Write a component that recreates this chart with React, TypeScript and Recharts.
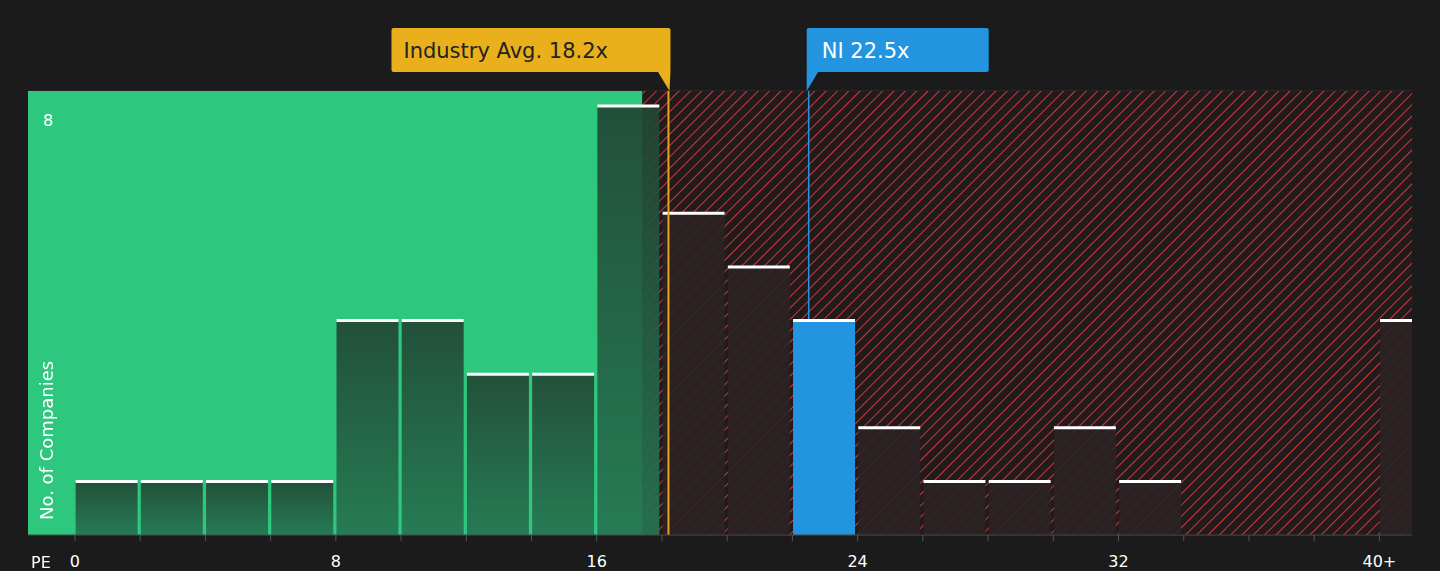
import { ComposedChart, XAxis, YAxis, CartesianGrid, ReferenceArea, ReferenceLine } from "recharts";

const binStarts = [0, 2, 4, 6, 8, 10, 12, 14, 16, 18, 20, 22, 24, 26, 28, 30, 32, 34, 36, 38, 40];
const counts = [1, 1, 1, 1, 4, 4, 3, 3, 8, 6, 5, 4, 2, 1, 1, 2, 1, 0, 0, 0, 4];
const xTicks = [0, 2, 4, 6, 8, 10, 12, 14, 16, 18, 20, 22, 24, 26, 28, 30, 32, 34, 36, 38, 40];
const xLabels: Record<number, string> = { 0: "0", 8: "8", 16: "16", 24: "24", 32: "32", 40: "40+" };
const yTicks = [0, 2, 4, 6, 8];
const industryAvg = 18.2;
const companyPe = 22.5;
const fairEdge = 17.4;
const binWidth = 2;
const xMin = -1.44;
const xMax = 41;
const yMax = 8.28;

const font = "'DejaVu Sans', sans-serif";

const IndustryLabel = ({ viewBox }: any) => {
  const x = viewBox.x;
  const y = viewBox.y;
  return (
    <g>
      <rect x={x - 277} y={y - 63} width={279} height={44} rx={2} fill="#e9b01b" />
      <path d={`M${x - 11},${y - 20} L${x + 2},${y - 20} L${x + 1},${y} Z`} fill="#e9b01b" />
      <text x={x - 265} y={y - 33} fill="#222" fontSize={21} fontFamily={font}>Industry Avg. 18.2x</text>
    </g>
  );
};

const CompanyLabel = ({ viewBox }: any) => {
  const x = viewBox.x - 2;
  const y = viewBox.y;
  return (
    <g>
      <rect x={x} y={y - 63} width={182} height={44} rx={2} fill="#2394e0" />
      <path d={`M${x},${y - 20} L${x + 12},${y - 20} L${x},${y} Z`} fill="#2394e0" />
      <text x={x + 15} y={y - 33} fill="#fff" fontSize={21} fontFamily={font}>NI 22.5x</text>
    </g>
  );
};

const YLabel = ({ viewBox }: any) => (
  <text x={viewBox.x + 15} y={viewBox.y + 20} fill="#fff" fontSize={16} fontFamily={font}>8</text>
);

const XTick = ({ x, y, payload }: any) => (
  <g>
    <line x1={x} x2={x} y1={y - 8} y2={y - 2} stroke="#555" />
    {xLabels[payload.value] !== undefined && (
      <text x={x} y={y + 24} textAnchor="middle" fill="#fff" fontSize={16} fontFamily={font}>{xLabels[payload.value]}</text>
    )}
  </g>
);

export default function App() {
  return (
    <div style={{ position: "fixed", left: 0, top: 0, width: 1440, height: 571, background: "#1b1b1b" }}>
      <svg width={0} height={0} style={{ position: "absolute" }}>
        <defs>
          <pattern id="hatch" width={8} height={8} patternUnits="userSpaceOnUse" patternTransform="rotate(45)">
            <rect width={8} height={8} fill="#231a1b" />
            <line x1={0} y1={0} x2={0} y2={8} stroke="#c83a3e" strokeWidth={2} />
          </pattern>
          <linearGradient id="greenBar" x1="0" y1="0" x2="0" y2="1">
            <stop offset="0%" stopColor="#214634" />
            <stop offset="100%" stopColor="#257551" />
          </linearGradient>
        </defs>
      </svg>
      <ComposedChart width={1440} height={571} margin={{ top: 91, right: 28, left: 28, bottom: 0 }} data={[{ x: 0 }]}>
        <XAxis type="number" dataKey="x" domain={[xMin, xMax]} ticks={xTicks} allowDataOverflow
          axisLine={{ stroke: "#444" }} tickLine={false} tick={<XTick />} height={36} interval={0} />
        <YAxis type="number" domain={[0, yMax]} ticks={yTicks} allowDataOverflow hide />
        <ReferenceArea x1={xMin} x2={fairEdge} y1={0} y2={yMax} fill="#2ec77e" fillOpacity={1} stroke="none" />
        <ReferenceArea x1={fairEdge} x2={xMax} y1={0} y2={yMax} fill="url(#hatch)" fillOpacity={1} stroke="none" />
        <CartesianGrid vertical={false} stroke="#ffffff" strokeOpacity={0.1} />
        <ReferenceLine y={8} x1={xMin} stroke="none" label={<YLabel />} />
        <ReferenceLine x={companyPe} stroke="#2394e0" strokeWidth={1.5} label={<CompanyLabel />} />
        {binStarts.map((s, i) => {
          if (counts[i] === 0) return null;
          const mid = s + binWidth / 2;
          const isNi = companyPe >= s && companyPe < s + binWidth;
          const fill = isNi ? "#2394e0" : mid < fairEdge ? "url(#greenBar)" : "#2b2323";
          return (
            <ReferenceArea key={`b${i}`} x1={s + 0.02} x2={s + binWidth - 0.08} y1={0} y2={counts[i]}
              fill={fill} fillOpacity={isNi ? 1 : 0.92} stroke="none" ifOverflow="hidden" />
          );
        })}
        {binStarts.map((s, i) =>
          counts[i] === 0 ? null : (
            <ReferenceLine key={`c${i}`} segment={[{ x: s + 0.02, y: counts[i] }, { x: s + binWidth - 0.08, y: counts[i] }]}
              stroke="#fff" strokeWidth={3} ifOverflow="hidden" />
          )
        )}
        <ReferenceLine x={industryAvg} stroke="#e9a21b" strokeWidth={2} label={<IndustryLabel />} />
      </ComposedChart>
      <div style={{ position: "absolute", left: 31, top: 553, color: "#fff", fontSize: 16, fontFamily: font }}>PE</div>
      <div style={{ position: "absolute", left: 38, top: 520, color: "#fff", fontSize: 18, fontFamily: font,
        transform: "rotate(-90deg)", transformOrigin: "0 0", whiteSpace: "nowrap", lineHeight: "1" }}>No. of Companies</div>
    </div>
  );
}
